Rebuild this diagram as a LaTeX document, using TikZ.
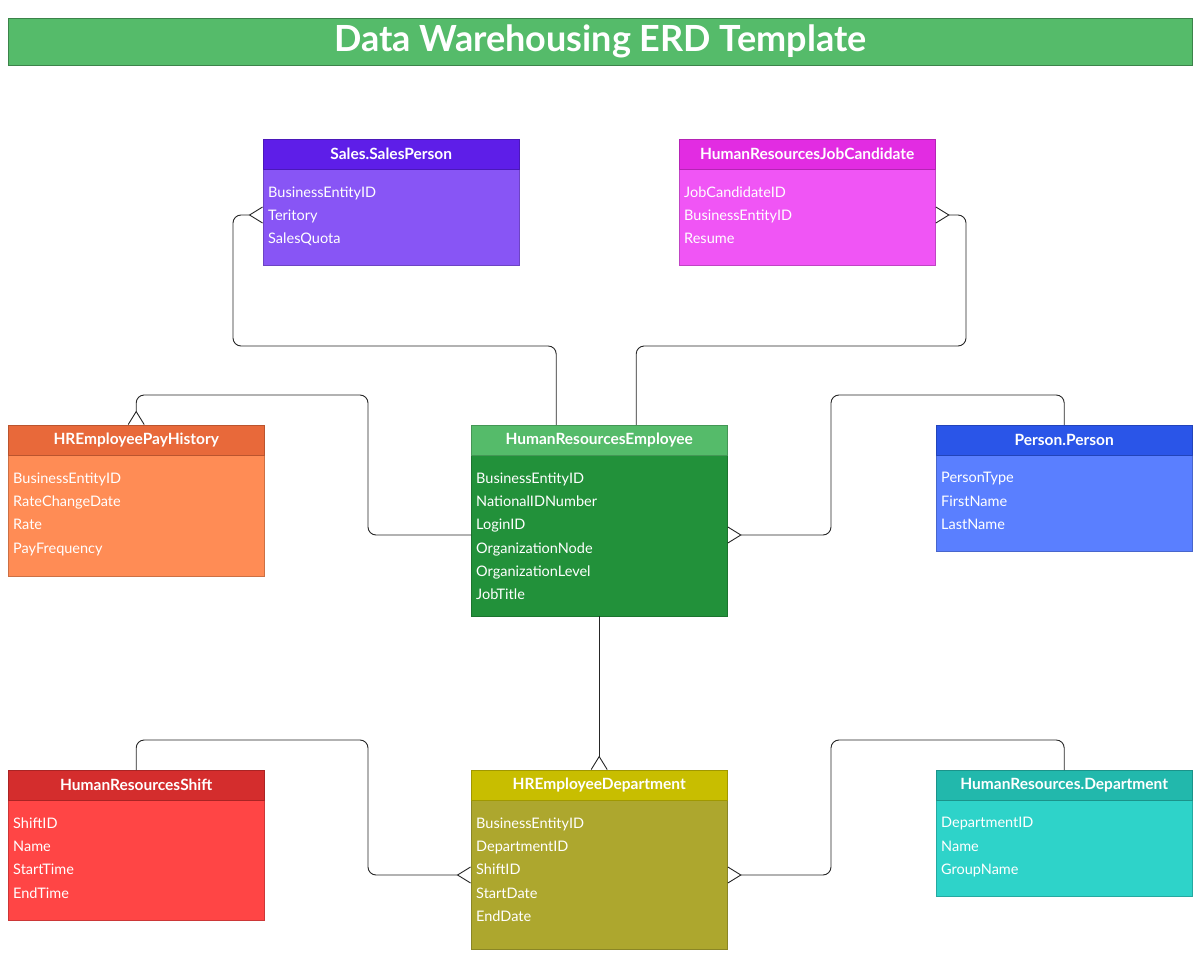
\documentclass[tikz,border=0pt]{standalone}
\usepackage{fontspec}
\setmainfont{Lato}
\usetikzlibrary{arrows.meta}
\definecolor{titlegreen}{HTML}{55BB6A}
\definecolor{spHead}{HTML}{5E1EE8}\definecolor{spBody}{HTML}{8855F5}
\definecolor{jcHead}{HTML}{E22CE2}\definecolor{jcBody}{HTML}{F055F5}
\definecolor{phHead}{HTML}{E8693A}\definecolor{phBody}{HTML}{FF8C55}
\definecolor{emHead}{HTML}{55BB6A}\definecolor{emBody}{HTML}{22913A}
\definecolor{peHead}{HTML}{2A55E8}\definecolor{peBody}{HTML}{5A7FFF}
\definecolor{shHead}{HTML}{D42D2D}\definecolor{shBody}{HTML}{FF4545}
\definecolor{edHead}{HTML}{C8BE00}\definecolor{edBody}{HTML}{ADA72E}
\definecolor{dpHead}{HTML}{22B8AC}\definecolor{dpBody}{HTML}{2ED3C9}
\tikzset{
  tbl/.style={draw=#1!80!black, anchor=north west, minimum width=256pt, inner sep=0pt},
  fields/.style={anchor=north west, align=left, text=white, font=\fontsize{14.5}{23.3}\selectfont, inner sep=0pt},
  link/.style={draw=black!85, line width=0.9pt, rounded corners=8pt},
  crow/.style={-{Straight Barb[reversed,length=13pt,width=16pt]}}
}
% name, x, y, height, color prefix, title, fields
\newcommand{\erdtable}[7]{
  \node[tbl=#5Body, fill=#5Body, minimum height=#4pt] (#1) at (#2,#3) {};
  \node[tbl=#5Head, fill=#5Head, minimum height=30pt, text=white, font=\bfseries\fontsize{15.5}{18}\selectfont] (#1h) at (#2,#3) {#6};
  \node[fields] (#1f) at ([xshift=5pt,yshift=-17pt]#1h.south west) {#7};
}
\begin{document}
\begin{tikzpicture}[x=1pt,y=-1pt]
  \useasboundingbox (0,0) rectangle (1200,957);
  % title
  \node[draw=titlegreen!70!black, fill=titlegreen, minimum width=1184pt, minimum height=47pt, anchor=north west,
        text=white, font=\bfseries\fontsize{36}{40}\selectfont, inner sep=0pt] (title) at (8,18) {Data Warehousing ERD Template};
  % tables
  \erdtable{sales}{263}{139}{126}{sp}{Sales.SalesPerson}{BusinessEntityID\\Teritory\\SalesQuota}
  \erdtable{cand}{679}{139}{126}{jc}{HumanResourcesJobCandidate}{JobCandidateID\\BusinessEntityID\\Resume}
  \erdtable{pay}{8}{425}{151}{ph}{HREmployeePayHistory}{BusinessEntityID\\RateChangeDate\\Rate\\PayFrequency}
  \erdtable{emp}{471}{425}{191}{em}{HumanResourcesEmployee}{BusinessEntityID\\NationalIDNumber\\LoginID\\OrganizationNode\\OrganizationLevel\\JobTitle}
  \erdtable{person}{936}{425}{126}{pe}{Person.Person}{PersonType\\FirstName\\LastName}
  \erdtable{shift}{8}{770}{150}{sh}{HumanResourcesShift}{ShiftID\\Name\\StartTime\\EndTime}
  \erdtable{edep}{471}{770}{179}{ed}{HREmployeeDepartment}{BusinessEntityID\\DepartmentID\\ShiftID\\StartDate\\EndDate}
  \erdtable{dept}{936}{770}{126}{dp}{HumanResources.Department}{DepartmentID\\Name\\GroupName}
  % connectors
  \coordinate (salesIn) at (sales.west |- 0,215);
  \coordinate (candIn) at (cand.east |- 0,215);
  \draw[link, crow] ([xshift=-43pt]emp.north) |- (233,346) |- (salesIn);
  \draw[link, crow] ([xshift=37pt]emp.north) |- (966,346) |- (candIn);
  \draw[link, crow] (emp.west |- 0,535) -| (368,395) -| (pay.north);
  \draw[link, crow] (person.north) |- (831,395) |- (emp.east |- 0,535);
  \draw[link, crow] (emp.south) -- (edep.north);
  \draw[link, crow] (shift.north) |- (368,740) |- (edep.west |- 0,875);
  \draw[link, crow] (dept.north) |- (831,740) |- (edep.east |- 0,875);
\end{tikzpicture}
\end{document}
